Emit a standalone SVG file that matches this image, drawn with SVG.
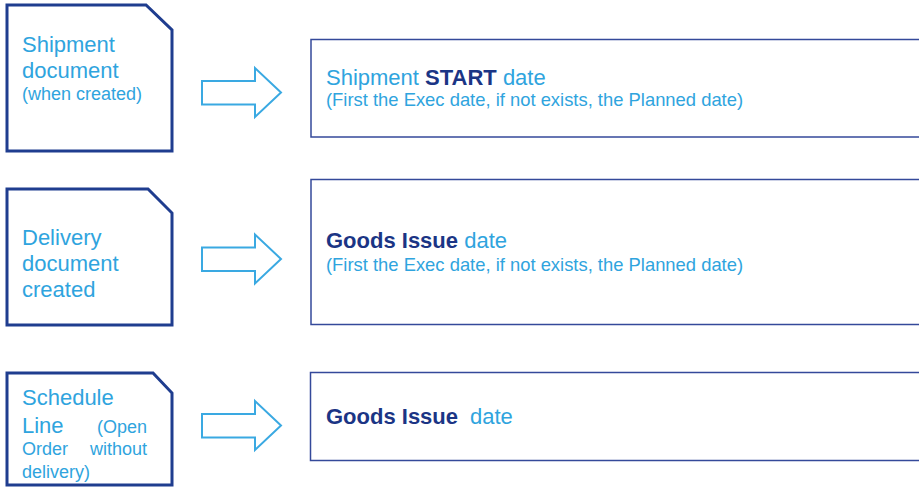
<svg xmlns="http://www.w3.org/2000/svg" width="919" height="487" viewBox="0 0 919 487">
<style>
.src{fill:#fff;stroke:#1f3d8f;stroke-width:3;stroke-linejoin:miter}
.dst{fill:#fff;stroke:#34499a;stroke-width:1.5}
.arr{fill:#fff;stroke:#3aa9e2;stroke-width:2;stroke-linejoin:miter}
text{font-family:"Liberation Sans",Arial,sans-serif;fill:#2fa4de}
.big{font-size:22px}
.sm{font-size:18px}
.note{font-size:18.4px}
.b{font-weight:bold;fill:#1b3585}
</style>
<rect width="919" height="487" fill="#fff"/>
<g id="node-shipment-doc">
<path class="src" d="M7,5 H146 L172,30 V151 H7 Z"/>
<text class="big" x="22" y="52">Shipment</text>
<text class="big" x="22" y="78">document</text>
<text class="sm" x="22" y="100">(when created)</text>
</g>
<g id="node-delivery-doc">
<path class="src" d="M7,189 H148 L172,213 V325 H7 Z"/>
<text class="big" x="22" y="245">Delivery</text>
<text class="big" x="22" y="271">document</text>
<text class="big" x="22" y="297">created</text>
</g>
<g id="node-schedule-line">
<path class="src" d="M7,373 H153 L172,393 V485 H7 Z"/>
<text class="big" x="22" y="405">Schedule</text>
<text class="big" x="22" y="433">Line</text>
<text class="sm" x="147" y="433" text-anchor="end">(Open</text>
<text class="sm" x="22" y="455">Order</text>
<text class="sm" x="147" y="455" text-anchor="end">without</text>
<text class="sm" x="22" y="478">delivery)</text>
</g>
<g id="node-shipment-start">
<rect class="dst" x="311" y="39.5" width="620" height="97.5"/>
<text class="big" x="326" y="85">Shipment <tspan class="b">START</tspan> date</text>
<text class="note" x="326" y="106">(First the Exec date, if not exists, the Planned date)</text>
</g>
<g id="node-goods-issue-1">
<rect class="dst" x="311" y="179.5" width="620" height="145"/>
<text class="big" x="326" y="248"><tspan class="b">Goods Issue</tspan> date</text>
<text class="note" x="326" y="271">(First the Exec date, if not exists, the Planned date)</text>
</g>
<g id="node-goods-issue-2">
<rect class="dst" x="310.5" y="372.5" width="620" height="88"/>
<text class="big" x="326" y="424"><tspan class="b">Goods Issue</tspan></text>
<text class="big" x="470" y="424">date</text>
</g>
<g id="connectors">
<path class="arr" d="M202,81 H255 V68 L281,92.5 L255,117 V104.5 H202 Z"/>
<path class="arr" d="M202,247.5 H255 V234.5 L281,259 L255,283.5 V271 H202 Z"/>
<path class="arr" d="M202,414 H255 V401 L281,425.5 L255,450 V437.5 H202 Z"/>
</g>
</svg>
